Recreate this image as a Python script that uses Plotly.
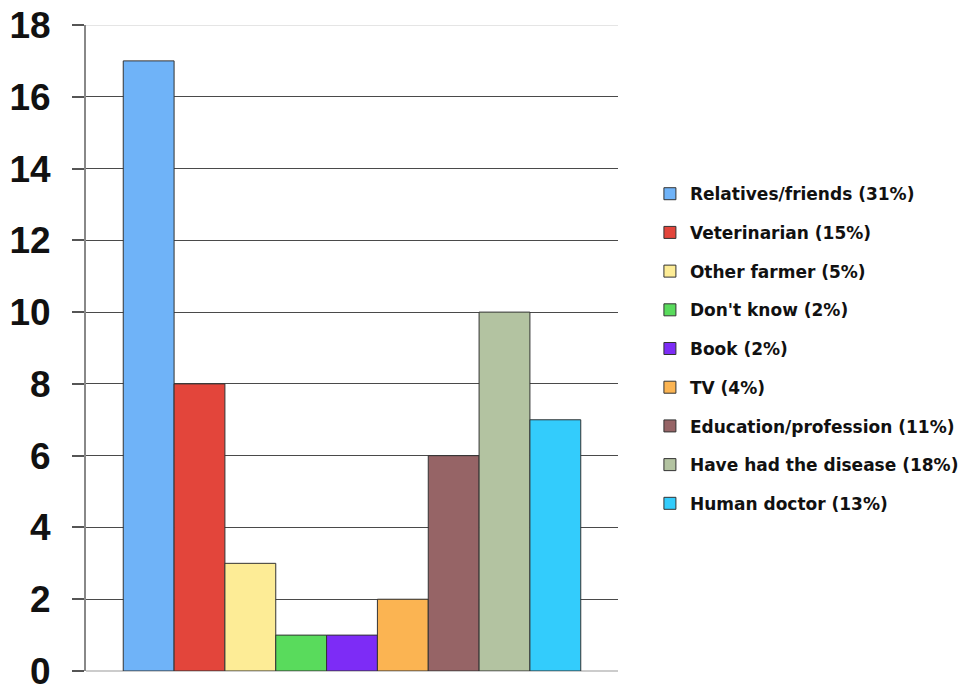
import plotly.graph_objects as go

categories = ["Relatives/friends (31%)", "Veterinarian (15%)", "Other farmer (5%)",
              "Don't know (2%)", "Book (2%)", "TV (4%)", "Education/profession (11%)",
              "Have had the disease (18%)", "Human doctor (13%)"]
values = [17, 8, 3, 1, 1, 2, 6, 10, 7]
colors = ["#6fb3f8", "#e3453b", "#fdec96", "#59db5c", "#7d2cf6", "#fbb452",
          "#966466", "#b3c3a1", "#33ccfc"]
y_ticks = [0, 2, 4, 6, 8, 10, 12, 14, 16, 18]

fig = go.Figure()
for i, (name, v, c) in enumerate(zip(categories, values, colors)):
    fig.add_trace(go.Bar(x=[""], y=[v], name=name, legendgroup=str(i),
                         marker=dict(color=c, line=dict(color="#333333", width=1))))

fig.update_layout(
    width=973, height=692,
    margin=dict(l=86, r=355, t=25, b=21, autoexpand=False),
    paper_bgcolor="white", plot_bgcolor="white",
    barmode="group", bargap=0.14, bargroupgap=0,
    showlegend=True,
    legend=dict(x=1.06, y=0.766, xanchor="left", yanchor="top",
                traceorder="grouped", tracegroupgap=13.6,
                font=dict(family="DejaVu Sans", size=17, color="#111", weight="bold"),
                itemwidth=30),
    font=dict(family="Liberation Sans, Arial"),
    xaxis=dict(showticklabels=False, showgrid=False, zeroline=False, showline=False,
               automargin=False),
    yaxis=dict(range=[0, 18], tickvals=y_ticks, ticktext=[str(t) for t in y_ticks],
               automargin=False,
               showgrid=True, gridcolor="#4a4a4a", gridwidth=1,
               zeroline=True, zerolinecolor="#cccccc", zerolinewidth=2,
               showline=True, linecolor="#888888", linewidth=2,
               ticks="outside", ticklen=12, tickcolor="#555555", tickwidth=1.5,
               tickfont=dict(size=37, color="#111", family="Liberation Sans, Arial", weight="bold"),
               ticklabelstandoff=14),
    shapes=[dict(type="line", xref="paper", yref="y", x0=0, x1=1, y0=18, y1=18,
                 line=dict(color="#cccccc", width=1), layer="above")],
)

fig.write_html("out.html")
